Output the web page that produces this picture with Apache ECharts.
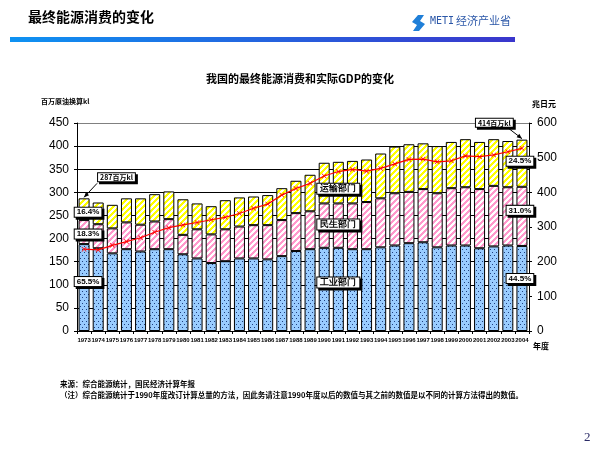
<!DOCTYPE html>
<html><head><meta charset="utf-8">
<script src="https://cdn.jsdelivr.net/npm/echarts@6/dist/echarts.min.js"></script>
<style>html,body{margin:0;padding:0;background:#fff}#c{width:600px;height:450px}</style>
</head><body><div id="c"></div>
<script>
const years = ['1973','1974','1975','1976','1977','1978','1979','1980','1981','1982','1983','1984','1985','1986','1987','1988','1989','1990','1991','1992','1993','1994','1995','1996','1997','1998','1999','2000','2001','2002','2003','2004'];
const industry    = [188,179,168,177,172,177,177,166,157,147,151,157,157,155,162,173,177,180,180,177,177,181,185,190,192,181,185,185,179,183,185,184];
const residential = [52,52,54,58,58,60,65,42,63,62,69,69,72,74,78,82,82,96,96,99,102,106,113,111,115,117,124,126,128,131,126,128];
const transport   = [47,47,51,52,57,59,60,77,56,61,63,63,62,65,69,70,79,88,90,92,92,97,101,103,99,102,100,104,102,101,100,102];
const gdp         = [236,234,247,258,269,285,298,306,313,321,328,339,354,366,392,411,426,447,460,466,461,469,482,495,496,488,491,505,503,508,517,527];
const leftTicks = {min:0, max:450, interval:50};
const rightTicks = {min:0, max:600, interval:100};
const shareFirst = ['65.5%','18.3%','16.4%'];
const shareLast  = ['44.5%','31.0%','24.5%'];
const sectorNames = ['工业部门','民生部门','运输部门'];
const callouts = ['287百万kl','414百万kl'];
const sectorLabelYear = '1991';

function makeTile(w,h,draw){const c=document.createElement('canvas');c.width=w;c.height=h;const g=c.getContext('2d');draw(g);return c;}
const bluePat = makeTile(4,6,g=>{g.fillStyle='#99CCFF';g.fillRect(0,0,4,6);g.fillStyle='#1F3F7F';g.fillRect(0,0,1,1);g.fillRect(2,3,1,1);});
function stripe(col){return makeTile(6,6,g=>{g.fillStyle='#fff';g.fillRect(0,0,6,6);g.fillStyle=col;for(let x=0;x<6;x++)for(let y=0;y<6;y++){if((x+y)%6<3)g.fillRect(x,y,1,1);}});}
const pinkPat = stripe('#FF99CC');
const yellowPat = stripe('#FFFF00');

const boxLabel = {show:true, position:'inside', color:'#000', fontSize:8, fontWeight:'bold', fontFamily:'Liberation Sans',
  backgroundColor:'#fff', borderColor:'#000', borderWidth:1, padding:[1,2,0,2],
  shadowColor:'#000', shadowOffsetX:2, shadowOffsetY:2, shadowBlur:0};

function buildData(arr, k){
  const sIdx = years.indexOf(sectorLabelYear);
  return arr.map((v,i)=>{
    if(i===0) return {value:v, label:Object.assign({}, boxLabel, {formatter:shareFirst[k], offset:[4,k===0?-6:(k===1?2:3)]})};
    if(i===arr.length-1) return {value:v, label:Object.assign({}, boxLabel, {formatter:shareLast[k], offset:[-2,k===0?-10:(k===1?-6:-2)]})};
    if(i===sIdx) return {value:v, label:Object.assign({}, boxLabel, {formatter:sectorNames[k], fontSize:9, padding:[1,3,0,3], offset:[0,k===0?-7:(k===1?-1:6)]})};
    return v;
  });
}

const chart = echarts.init(document.getElementById('c'), null, {renderer:'canvas'});
const gridLineColors = ['#000','#000','#000','#000','#000','#000','#000','#000','#000','#808080'];
const barStyle = (pat)=>({color:{image:pat, repeat:'repeat'}, borderColor:'#000', borderWidth:1});
const option = {
  backgroundColor:'#fff',
  animation:false,
  grid:{left:77, right:71, top:123, bottom:119},
  xAxis:{type:'category', data:years,
    axisLine:{lineStyle:{color:'#000'}},
    axisTick:{show:true, length:3, lineStyle:{color:'#000'}},
    axisLabel:{interval:0, fontSize:6, fontWeight:'bold', color:'#000', margin:6, fontFamily:'Liberation Sans'}},
  yAxis:[
    {type:'value', min:leftTicks.min, max:leftTicks.max, interval:leftTicks.interval,
     axisLine:{show:true, lineStyle:{color:'#000'}},
     axisTick:{show:true, length:3, lineStyle:{color:'#000'}},
     axisLabel:{fontSize:12, color:'#000', margin:8, fontFamily:'Liberation Sans'},
     splitLine:{show:true, lineStyle:{color:gridLineColors, width:1}}},
    {type:'value', min:rightTicks.min, max:rightTicks.max, interval:rightTicks.interval,
     axisLine:{show:true, lineStyle:{color:'#000'}},
     axisTick:{show:true, length:3, lineStyle:{color:'#000'}},
     axisLabel:{fontSize:12, color:'#000', margin:8, fontFamily:'Liberation Sans'},
     splitLine:{show:false}}
  ],
  series:[
    {name:'工业部门', type:'bar', stack:'e', barWidth:11, itemStyle:barStyle(bluePat), data:buildData(industry,0)},
    {name:'民生部门', type:'bar', stack:'e', barWidth:11, itemStyle:barStyle(pinkPat), data:buildData(residential,1)},
    {name:'运输部门', type:'bar', stack:'e', barWidth:11, itemStyle:barStyle(yellowPat), data:buildData(transport,2)},
    {name:'实际GDP', type:'line', yAxisIndex:1, data:gdp, z:5,
     lineStyle:{color:'#FF0000', width:1.2}, itemStyle:{color:'#FF0000'},
     symbol:'path://M0,1L1,0L5,4L9,0L10,1L6,5L10,9L9,10L5,6L1,10L0,9L4,5Z', symbolSize:5}
  ],
  graphic:[]
};
chart.setOption(option);

// annotation callouts positioned via the chart's own scales
const totalFirst = industry[0]+residential[0]+transport[0];
const nL = years.length-1;
const totalLast = industry[nL]+residential[nL]+transport[nL];
const p1 = chart.convertToPixel({xAxisIndex:0, yAxisIndex:0}, [years[0], totalFirst]);
const p2 = chart.convertToPixel({xAxisIndex:0, yAxisIndex:0}, [years[nL], totalLast]);
function callout(p, text, dx, dy, ax, ay){
  return [
    {type:'line', z:20, shape:{x1:p[0]+ax, y1:p[1]+ay, x2:p[0], y2:p[1]-1}, style:{stroke:'#000', lineWidth:1}},
    {type:'polygon', z:20, shape:{points:arrowHead(p[0]+ax,p[1]+ay,p[0],p[1]-1)}, style:{fill:'#000'}},
    {type:'text', z:21, left:p[0]+dx, top:p[1]+dy, style:{text:text, fill:'#000', font:'bold 7px "Noto Sans CJK SC"',
      backgroundColor:'#fff', borderColor:'#000', borderWidth:1, padding:[1,2,0,2], shadowColor:'#000', shadowOffsetX:2, shadowOffsetY:2}}
  ];
}
function arrowHead(x1,y1,x2,y2){
  const a=Math.atan2(y2-y1,x2-x1), L=5, w=2.2;
  const bx=x2-L*Math.cos(a), by=y2-L*Math.sin(a);
  return [[x2,y2],[bx+w*Math.sin(a),by-w*Math.cos(a)],[bx-w*Math.sin(a),by+w*Math.cos(a)]];
}
const g = [];
g.push(...callout(p1, callouts[0], 13, -26, 13, -15));
g.push(...callout(p2, callouts[1], -47, -22, -13, -11));
// header
g.push({type:'text', left:28, top:10, style:{text:'最终能源消费的变化', fill:'#000', font:'bold 14px "Noto Sans CJK SC"'}});
g.push({type:'rect', shape:{x:10, y:37, width:505, height:5}, style:{fill:new echarts.graphic.LinearGradient(0,0,1,0,[{offset:0,color:'#0E92F2'},{offset:1,color:'#3A36CC'}])}});
g.push({type:'polygon', shape:{points:[[418,15],[424,15],[420,21],[425,24],[419,31],[413,31],[417,25],[412,22]]}, style:{fill:'#1F7FD8'}});
g.push({type:'text', left:430, top:16, style:{text:'METI', fill:'#2B57A8', font:'10px "DejaVu Sans Mono"'}});
g.push({type:'text', left:456, top:15, style:{text:'经济产业省', fill:'#2B57A8', font:'11px "Noto Sans CJK SC"'}});
// chart title & axis names
g.push({type:'text', left:'center', top:73, style:{text:'我国的最终能源消费和实际GDP的变化', fill:'#000', font:'bold 11px "Noto Sans CJK SC"'}});
g.push({type:'text', left:41, top:98, style:{text:'百万原油换算kl', fill:'#000', font:'bold 7px "Noto Sans CJK SC"'}});
g.push({type:'text', left:532, top:100, style:{text:'兆日元', fill:'#000', font:'bold 8px "Noto Sans CJK SC"'}});
g.push({type:'text', left:533, top:342, style:{text:'年度', fill:'#000', font:'bold 8px "Noto Sans CJK SC"'}});
// footnotes
g.push({type:'text', left:60, top:380, style:{text:'来源：综合能源统计，国民经济计算年报', fill:'#000', font:'bold 7.5px "Noto Sans CJK SC"'}});
g.push({type:'text', left:60, top:391, style:{text:'（注）综合能源统计于1990年度改订计算总量的方法，因此务请注意1990年度以后的数值与其之前的数值是以不同的计算方法得出的数值。', fill:'#000', font:'bold 7.5px "Noto Sans CJK SC"'}});
g.push({type:'text', left:584, top:431, style:{text:'2', fill:'#2A2A66', font:'13px "Liberation Serif"'}});
chart.setOption({graphic:g});
</script>
</body></html>
